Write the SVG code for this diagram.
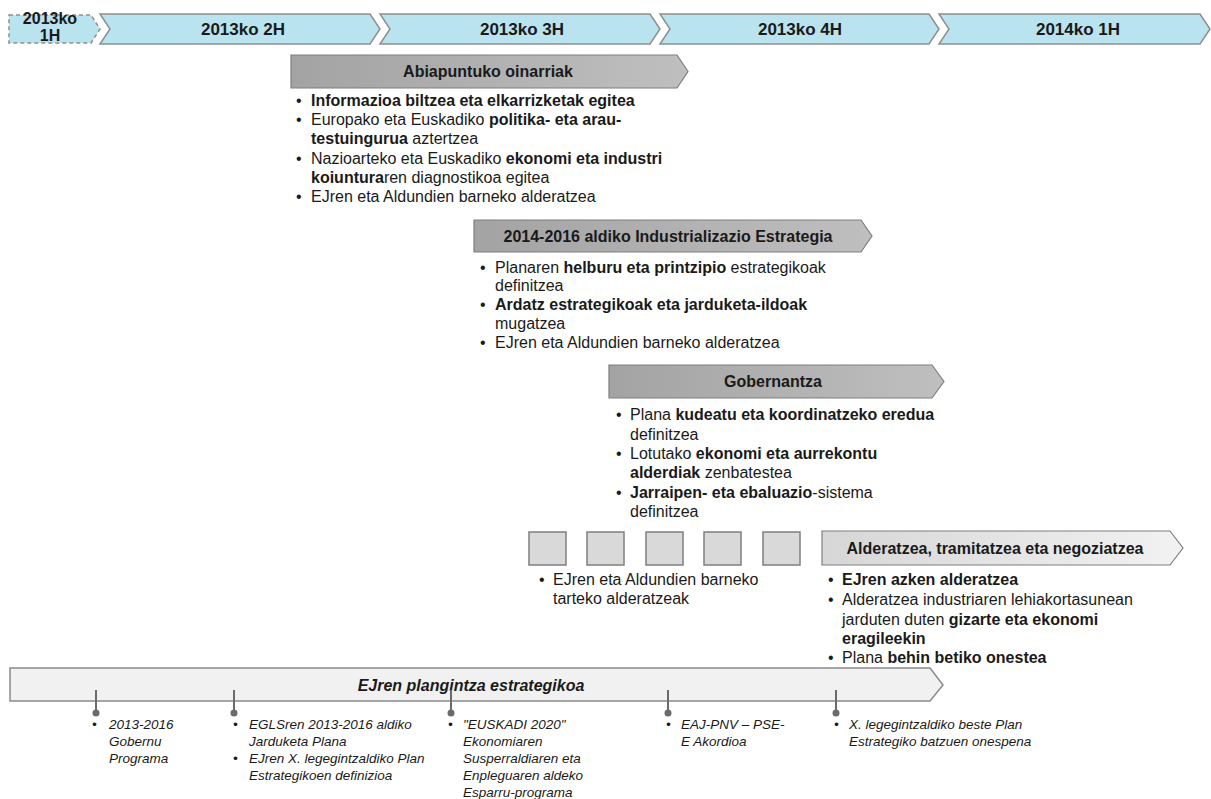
<svg xmlns="http://www.w3.org/2000/svg" width="1211" height="799" viewBox="0 0 1211 799">
<defs>
<linearGradient id="gDark" x1="0" y1="0" x2="1" y2="0">
<stop offset="0" stop-color="#a3a3a3"/><stop offset="1" stop-color="#bfbfbf"/>
</linearGradient>
<linearGradient id="gLight" x1="0" y1="0" x2="1" y2="0">
<stop offset="0" stop-color="#d6d6d6"/><stop offset="1" stop-color="#f2f2f2"/>
</linearGradient>
</defs>
<style>
text{font-family:"Liberation Sans",Arial,sans-serif;fill:#1a1a1a}
.tl{fill:#b9e4ef;stroke:#8e8e8e;stroke-width:1.5}
.tlt{font-size:17px;font-weight:bold;text-anchor:middle}
.tls{font-size:16px;font-weight:bold;text-anchor:middle}
.hd{stroke:#7f7f7f;stroke-width:1.2}
.hdt{font-size:16px;font-weight:bold;text-anchor:middle}
.bt{font-size:16px}
.b{font-weight:bold}
.sq{fill:#d9d9d9;stroke:#7f7f7f;stroke-width:1.5}
.bar{fill:#f1f1f1;stroke:#8a8a8a;stroke-width:1.5}
.bart{font-size:16px;font-weight:bold;font-style:italic;text-anchor:middle}
.it{font-size:13.5px;font-style:italic}
.tick{stroke:#6b6b6b;stroke-width:2}
.dot{fill:#6b6b6b}
</style>

<g id="timeline">
<g id="t-2013-1H">
<path d="M9,15 H91 L100,29 L91,43 H9 Z" fill="#b9e4ef" stroke="#8e8e8e" stroke-width="1.5" stroke-dasharray="4,3"/>
<text class="tls" x="50" y="24">2013ko</text>
<text class="tls" x="50" y="41">1H</text>
</g>
<g id="t-2013-2H">
<path class="tl" d="M100,14 H370 L380,29 L370,44 H100 L110,29 Z"/>
<text class="tlt" x="243" y="35">2013ko 2H</text>
</g>
<g id="t-2013-3H">
<path class="tl" d="M380,14 H650 L660,29 L650,44 H380 L390,29 Z"/>
<text class="tlt" x="522" y="35">2013ko 3H</text>
</g>
<g id="t-2013-4H">
<path class="tl" d="M660,14 H929 L939,29 L929,44 H660 L670,29 Z"/>
<text class="tlt" x="800" y="35">2013ko 4H</text>
</g>
<g id="t-2014-1H">
<path class="tl" d="M939,14 H1200 L1210,29 L1200,44 H939 L949,29 Z"/>
<text class="tlt" x="1078" y="35">2014ko 1H</text>
</g>
</g>

<g id="abiapuntuko">
<path class="hd" fill="url(#gDark)" d="M291,55 H677 L688,71.5 L677,88 H291 Z"/>
<text class="hdt" x="488" y="77">Abiapuntuko oinarriak</text>
<g class="bt">
<text x="296" y="106">•</text>
<text x="311" y="106" class="b">Informazioa biltzea eta elkarrizketak egitea</text>
<text x="296" y="125">•</text>
<text x="311" y="125">Europako eta Euskadiko <tspan class="b">politika- eta arau-</tspan></text>
<text x="311" y="144"><tspan class="b">testuingurua</tspan> aztertzea</text>
<text x="296" y="164">•</text>
<text x="311" y="164">Nazioarteko eta Euskadiko <tspan class="b">ekonomi eta industri</tspan></text>
<text x="311" y="183"><tspan class="b">koiuntura</tspan>ren diagnostikoa egitea</text>
<text x="296" y="202">•</text>
<text x="311" y="202">EJren eta Aldundien barneko alderatzea</text>
</g>
</g>

<g id="estrategia">
<path class="hd" fill="url(#gDark)" d="M474,220 H861 L872,236 L861,252 H474 Z"/>
<text class="hdt" x="668" y="242">2014-2016 aldiko Industrializazio Estrategia</text>
<g class="bt">
<text x="480" y="273">•</text>
<text x="495" y="273">Planaren <tspan class="b">helburu eta printzipio</tspan> estrategikoak</text>
<text x="495" y="291">definitzea</text>
<text x="480" y="310">•</text>
<text x="495" y="310" class="b">Ardatz estrategikoak eta jarduketa-ildoak</text>
<text x="495" y="329">mugatzea</text>
<text x="480" y="348">•</text>
<text x="495" y="348">EJren eta Aldundien barneko alderatzea</text>
</g>
</g>

<g id="gobernantza">
<path class="hd" fill="url(#gDark)" d="M609,365 H932 L944,381.5 L932,398 H609 Z"/>
<text class="hdt" x="773" y="387">Gobernantza</text>
<g class="bt">
<text x="616" y="420">•</text>
<text x="630" y="420">Plana <tspan class="b">kudeatu eta koordinatzeko eredua</tspan></text>
<text x="630" y="440">definitzea</text>
<text x="616" y="459">•</text>
<text x="630" y="459">Lotutako <tspan class="b">ekonomi eta aurrekontu</tspan></text>
<text x="630" y="478"><tspan class="b">alderdiak</tspan> zenbatestea</text>
<text x="616" y="498">•</text>
<text x="630" y="498"><tspan class="b">Jarraipen- eta ebaluazio</tspan>-sistema</text>
<text x="630" y="517">definitzea</text>
</g>
</g>

<g id="tarteko">
<rect class="sq" x="529" y="532" width="37" height="33"/>
<rect class="sq" x="587" y="532" width="37" height="33"/>
<rect class="sq" x="646" y="532" width="37" height="33"/>
<rect class="sq" x="704" y="532" width="37" height="33"/>
<rect class="sq" x="763" y="532" width="37" height="33"/>
<g class="bt">
<text x="539" y="585">•</text>
<text x="553" y="585">EJren eta Aldundien barneko</text>
<text x="553" y="604">tarteko alderatzeak</text>
</g>
</g>

<g id="alderatzea">
<path class="hd" fill="url(#gLight)" d="M822,531 H1170 L1183,548 L1170,565 H822 Z"/>
<text class="hdt" x="995" y="554">Alderatzea, tramitatzea eta negoziatzea</text>
<g class="bt">
<text x="828" y="585">•</text>
<text x="842" y="585" class="b">EJren azken alderatzea</text>
<text x="828" y="605">•</text>
<text x="842" y="605">Alderatzea industriaren lehiakortasunean</text>
<text x="842" y="625">jarduten duten <tspan class="b">gizarte eta ekonomi</tspan></text>
<text x="842" y="644" class="b">eragileekin</text>
<text x="828" y="663">•</text>
<text x="842" y="663">Plana <tspan class="b">behin betiko onestea</tspan></text>
</g>
</g>

<g id="plangintza">
<path class="bar" d="M10,668 H930 L943,685 L930,701 H10 Z"/>
<text class="bart" x="471" y="691">EJren plangintza estrategikoa</text>
</g>

<g id="connectors">
<line class="tick" x1="96" y1="690" x2="96" y2="712"/><circle class="dot" cx="96" cy="713" r="3.5"/>
<line class="tick" x1="234" y1="690" x2="234" y2="712"/><circle class="dot" cx="234" cy="713" r="3.5"/>
<line class="tick" x1="451" y1="690" x2="451" y2="712"/><circle class="dot" cx="451" cy="713" r="3.5"/>
<line class="tick" x1="668" y1="690" x2="668" y2="712"/><circle class="dot" cx="668" cy="713" r="3.5"/>
<line class="tick" x1="836" y1="690" x2="836" y2="712"/><circle class="dot" cx="836" cy="713" r="3.5"/>
</g>

<g id="m-gobernu" class="it">
<text x="92" y="729">•</text>
<text x="109" y="729">2013-2016</text>
<text x="109" y="746">Gobernu</text>
<text x="109" y="763">Programa</text>
</g>
<g id="m-eglsren" class="it">
<text x="233" y="729">•</text>
<text x="249" y="729">EGLSren 2013-2016 aldiko</text>
<text x="249" y="746">Jarduketa Plana</text>
<text x="233" y="763">•</text>
<text x="249" y="763">EJren X. legegintzaldiko Plan</text>
<text x="249" y="780">Estrategikoen definizioa</text>
</g>
<g id="m-euskadi" class="it">
<text x="448" y="729">•</text>
<text x="463" y="729">"EUSKADI 2020"</text>
<text x="463" y="746">Ekonomiaren</text>
<text x="463" y="763">Susperraldiaren eta</text>
<text x="463" y="780">Enpleguaren aldeko</text>
<text x="463" y="797">Esparru-programa</text>
</g>
<g id="m-akordioa" class="it">
<text x="666" y="729">•</text>
<text x="681" y="729">EAJ-PNV – PSE-</text>
<text x="681" y="746">E Akordioa</text>
</g>
<g id="m-onespena" class="it">
<text x="834" y="729">•</text>
<text x="849" y="729">X. legegintzaldiko beste Plan</text>
<text x="849" y="746">Estrategiko batzuen onespena</text>
</g>
</svg>
